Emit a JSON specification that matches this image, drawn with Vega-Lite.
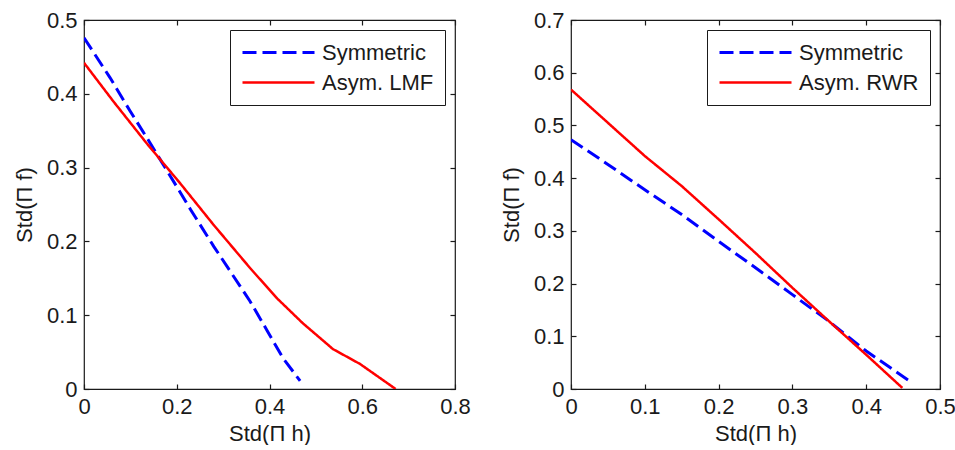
{
  "$schema": "https://vega.github.io/schema/vega-lite/v6.json",
  "padding": {"left": 12, "top": 8, "right": 5, "bottom": 0},
  "background": "white",
  "config": {
    "font": "Liberation Sans",
    "view": {"stroke": "#1a1a1a", "strokeWidth": 1.2},
    "axis": {
      "labelFont": "Liberation Sans",
      "labelFontSize": 22,
      "labelColor": "#1a1a1a",
      "titleFont": "Liberation Sans",
      "titleFontSize": 22,
      "titleFontWeight": "normal",
      "titleColor": "#1a1a1a",
      "grid": false,
      "domain": false,
      "tickColor": "#1a1a1a",
      "tickSize": -5,
      "tickWidth": 1.2,
      "labelFlush": false,
      "labelOverlap": false,
      "format": "~g"
    },
    "legend": {
      "orient": "top-right",
      "offset": 10,
      "strokeColor": "#1a1a1a",
      "fillColor": "white",
      "padding": 11,
      "labelFont": "Liberation Sans",
      "labelFontSize": 22,
      "labelColor": "#1a1a1a",
      "symbolType": "M-3.6,0H3.6",
      "symbolSize": 400,
      "symbolOffset": 26,
      "labelOffset": 32,
      "symbolStrokeWidth": 3,
      "rowPadding": 7
    }
  },
  "datasets": {
    "left": [
      {"series": "Symmetric", "h": 0.0, "f": 0.476},
      {"series": "Symmetric", "h": 0.056, "f": 0.422},
      {"series": "Symmetric", "h": 0.099, "f": 0.377},
      {"series": "Symmetric", "h": 0.135, "f": 0.341},
      {"series": "Symmetric", "h": 0.171, "f": 0.304},
      {"series": "Symmetric", "h": 0.207, "f": 0.267},
      {"series": "Symmetric", "h": 0.229, "f": 0.244},
      {"series": "Symmetric", "h": 0.28, "f": 0.193},
      {"series": "Symmetric", "h": 0.358, "f": 0.119},
      {"series": "Symmetric", "h": 0.395, "f": 0.079},
      {"series": "Symmetric", "h": 0.429, "f": 0.042},
      {"series": "Symmetric", "h": 0.466, "f": 0.011},
      {"series": "Asym. LMF", "h": 0.0, "f": 0.442},
      {"series": "Asym. LMF", "h": 0.063, "f": 0.390},
      {"series": "Asym. LMF", "h": 0.135, "f": 0.333},
      {"series": "Asym. LMF", "h": 0.207, "f": 0.279},
      {"series": "Asym. LMF", "h": 0.28, "f": 0.222},
      {"series": "Asym. LMF", "h": 0.358, "f": 0.164},
      {"series": "Asym. LMF", "h": 0.416, "f": 0.123},
      {"series": "Asym. LMF", "h": 0.472, "f": 0.089},
      {"series": "Asym. LMF", "h": 0.537, "f": 0.054},
      {"series": "Asym. LMF", "h": 0.595, "f": 0.034},
      {"series": "Asym. LMF", "h": 0.672, "f": 0.0}
    ],
    "right": [
      {"series": "Symmetric", "h": 0.0, "f": 0.473},
      {"series": "Symmetric", "h": 0.05, "f": 0.426},
      {"series": "Symmetric", "h": 0.1, "f": 0.378},
      {"series": "Symmetric", "h": 0.15, "f": 0.331},
      {"series": "Symmetric", "h": 0.2, "f": 0.280},
      {"series": "Symmetric", "h": 0.25, "f": 0.230},
      {"series": "Symmetric", "h": 0.3, "f": 0.179},
      {"series": "Symmetric", "h": 0.35, "f": 0.128},
      {"series": "Symmetric", "h": 0.4, "f": 0.072},
      {"series": "Symmetric", "h": 0.463, "f": 0.011},
      {"series": "Asym. RWR", "h": 0.0, "f": 0.568},
      {"series": "Asym. RWR", "h": 0.05, "f": 0.505},
      {"series": "Asym. RWR", "h": 0.1, "f": 0.442},
      {"series": "Asym. RWR", "h": 0.15, "f": 0.385},
      {"series": "Asym. RWR", "h": 0.2, "f": 0.322},
      {"series": "Asym. RWR", "h": 0.25, "f": 0.258},
      {"series": "Asym. RWR", "h": 0.3, "f": 0.192},
      {"series": "Asym. RWR", "h": 0.35, "f": 0.128},
      {"series": "Asym. RWR", "h": 0.4, "f": 0.065},
      {"series": "Asym. RWR", "h": 0.449, "f": 0.002}
    ]
  },
  "hconcat": [
    {
      "width": 371,
      "height": 369,
      "data": {"name": "left"},
      "layer": [
        {
          "mark": {"type": "line", "clip": true},
          "encoding": {
            "x": {"field": "h", "type": "quantitative", "scale": {"domain": [0, 0.8], "nice": false, "zero": false},
                  "axis": {"orient": "bottom", "title": "Std(Π h)", "values": [0, 0.2, 0.4, 0.6, 0.8], "labelPadding": 12, "titlePadding": 6}},
            "y": {"field": "f", "type": "quantitative", "scale": {"domain": [0, 0.5], "nice": false, "zero": false},
                  "axis": {"orient": "left", "title": "Std(Π f)", "values": [0, 0.1, 0.2, 0.3, 0.4, 0.5], "labelPadding": 12, "titlePadding": 10}},
            "color": {"field": "series", "type": "nominal", "scale": {"domain": ["Symmetric", "Asym. LMF"], "range": ["#0000ff", "#ff0000"]}, "legend": {"title": null}},
            "strokeDash": {"field": "series", "type": "nominal", "scale": {"domain": ["Symmetric", "Asym. LMF"], "range": [[14, 6], [1, 0]]}, "legend": {"title": null}},
            "strokeWidth": {"field": "series", "type": "nominal", "scale": {"domain": ["Symmetric", "Asym. LMF"], "range": [3, 2.5]}, "legend": null}
          }
        },
        {
          "mark": {"type": "point", "opacity": 0},
          "encoding": {
            "x": {"field": "h", "type": "quantitative", "axis": {"orient": "top", "title": null, "labels": false, "values": [0, 0.2, 0.4, 0.6, 0.8]}},
            "y": {"field": "f", "type": "quantitative", "axis": {"orient": "right", "title": null, "labels": false, "values": [0, 0.1, 0.2, 0.3, 0.4, 0.5]}}
          }
        }
      ],
      "resolve": {"axis": {"x": "independent", "y": "independent"}}
    },
    {
      "width": 369,
      "height": 369,
      "data": {"name": "right"},
      "layer": [
        {
          "mark": {"type": "line", "clip": true},
          "encoding": {
            "x": {"field": "h", "type": "quantitative", "scale": {"domain": [0, 0.5], "nice": false, "zero": false},
                  "axis": {"orient": "bottom", "title": "Std(Π h)", "values": [0, 0.1, 0.2, 0.3, 0.4, 0.5], "labelPadding": 12, "titlePadding": 6}},
            "y": {"field": "f", "type": "quantitative", "scale": {"domain": [0, 0.7], "nice": false, "zero": false},
                  "axis": {"orient": "left", "title": "Std(Π f)", "values": [0, 0.1, 0.2, 0.3, 0.4, 0.5, 0.6, 0.7], "labelPadding": 12, "titlePadding": 10}},
            "color": {"field": "series", "type": "nominal", "scale": {"domain": ["Symmetric", "Asym. RWR"], "range": ["#0000ff", "#ff0000"]}, "legend": {"title": null}},
            "strokeDash": {"field": "series", "type": "nominal", "scale": {"domain": ["Symmetric", "Asym. RWR"], "range": [[14, 6], [1, 0]]}, "legend": {"title": null}},
            "strokeWidth": {"field": "series", "type": "nominal", "scale": {"domain": ["Symmetric", "Asym. RWR"], "range": [3, 2.5]}, "legend": null}
          }
        },
        {
          "mark": {"type": "point", "opacity": 0},
          "encoding": {
            "x": {"field": "h", "type": "quantitative", "axis": {"orient": "top", "title": null, "labels": false, "values": [0, 0.1, 0.2, 0.3, 0.4, 0.5]}},
            "y": {"field": "f", "type": "quantitative", "axis": {"orient": "right", "title": null, "labels": false, "values": [0, 0.1, 0.2, 0.3, 0.4, 0.5, 0.6, 0.7]}}
          }
        }
      ],
      "resolve": {"axis": {"x": "independent", "y": "independent"}}
    }
  ],
  "spacing": 28,
  "resolve": {"scale": {"color": "independent", "strokeDash": "independent", "strokeWidth": "independent"}}
}
